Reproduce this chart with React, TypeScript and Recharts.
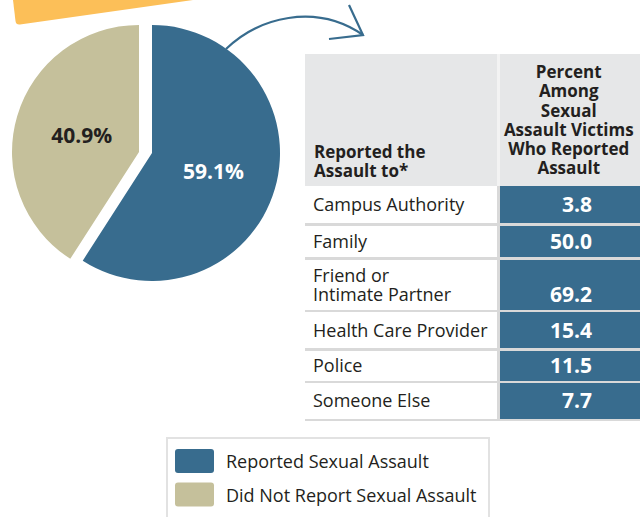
import React from 'react';
import { PieChart, Pie, Cell, Legend } from 'recharts';

// ---- data ----
const pieNames = ['Reported Sexual Assault', 'Did Not Report Sexual Assault'];
const pieValues = [59.1, 40.9];
const pieColors = ['#386c8e', '#c5c09b'];
const pieLabelColors = ['#ffffff', '#231f20'];

const headerCol1 = ['Reported the', 'Assault to*'];
const headerCol2 = ['Percent', 'Among', 'Sexual', 'Assault Victims', 'Who Reported', 'Assault'];
const reportedTo = ['Campus Authority', 'Family', 'Friend or\nIntimate Partner', 'Health Care Provider', 'Police', 'Someone Else'];
const reportedPercents = [3.8, 50.0, 69.2, 15.4, 11.5, 7.7];

const pieData = pieNames.map((name, i) => ({ name, value: pieValues[i] }));

// ---- layout ----
const FONT = '"Open Sans", "DejaVu Sans", sans-serif';
const TEXT = '#231f20';
const BLUE = pieColors[0];
const SEP = '#d9d9d9';
const TABLE_LEFT = 305;
const DIVIDER_X = 497;
const VALUE_LEFT = 499.5;
const TABLE_RIGHT = 640;
const HEADER_TOP = 54;
const HEADER_BOTTOM = 186;
const rowLines = [186, 223, 257, 309.5, 348, 380.5, 418.5];
const LINE_H = 2.5;
const RAD = Math.PI / 180;
const labelRadiusFactor = [0.5, 0.47];

const makeLabel = (visibleIndex: number) => (props: any) => {
  const { cx, cy, midAngle, outerRadius, index, value } = props;
  if (index !== visibleIndex) return null;
  const r = outerRadius * labelRadiusFactor[index];
  const x = cx + r * Math.cos(-midAngle * RAD);
  const y = cy + r * Math.sin(-midAngle * RAD);
  return (
    <text x={x} y={y} fill={pieLabelColors[index]} textAnchor="middle" dominantBaseline="central"
      style={{ fontFamily: FONT, fontWeight: 700, fontSize: 21 }}>
      {`${value.toFixed(1)}%`}
    </text>
  );
};

const renderLegend = () => (
  <div style={{ width: 324, height: 100, border: '2px solid #e2e2e2', boxSizing: 'border-box', fontFamily: FONT }}>
    {pieNames.map((n, i) => (
      <div key={n} style={{ position: 'absolute', left: 9, top: 12, height: 24, display: 'flex', alignItems: 'center', transform: `translateY(${i * 33.5}px)` }}>
        <div style={{ width: 39, height: 24, borderRadius: 3, background: pieColors[i] }} />
        <span style={{ marginLeft: 12, fontSize: 18, color: TEXT, whiteSpace: 'nowrap' }}>{n}</span>
      </div>
    ))}
  </div>
);

export default function App() {
  const rows = reportedTo.map((label, i) => {
    const top = rowLines[i] + (i === 0 ? 0 : LINE_H);
    const bottom = rowLines[i + 1];
    const nLines = label.split('\n').length;
    return { label, top, height: bottom - top, value: '\n'.repeat(nLines - 1) + reportedPercents[i].toFixed(1) };
  });

  return (
    <div style={{ position: 'absolute', left: 0, top: 0, width: 640, height: 517, overflow: 'hidden', background: '#fff', fontFamily: FONT }}>
      {/* yellow banner */}
      <svg width={640} height={517} style={{ position: 'absolute', left: 0, top: 0 }}>
        <path d="M13,0 L193,0 L20,24.5 Q16,25 15.5,21 Z" fill="#fcbf58" />
      </svg>

      <div style={{ position: 'absolute', left: 0, top: 0 }}>
        <PieChart width={640} height={517} margin={{ top: 0, right: 0, bottom: 0, left: 0 }}>
          <Pie data={pieData} dataKey="value" nameKey="name" cx={152} cy={153} outerRadius={128}
            startAngle={90} endAngle={-270} stroke="none" labelLine={false} label={makeLabel(0)}
            isAnimationActive={false} legendType="none">
            <Cell fill={pieColors[0]} />
            <Cell fill="none" />
          </Pie>
          <Pie data={pieData} dataKey="value" nameKey="name" cx={139} cy={152} outerRadius={127}
            startAngle={90} endAngle={-270} stroke="none" labelLine={false} label={makeLabel(1)}
            isAnimationActive={false} legendType="none">
            <Cell fill="none" />
            <Cell fill={pieColors[1]} />
          </Pie>
          <Legend content={renderLegend}
            wrapperStyle={{ position: 'absolute', left: 166, top: 437, bottom: 'auto', width: 324, height: 100 }} />
        </PieChart>
      </div>

      {/* arrow */}
      <svg width={640} height={517} style={{ position: 'absolute', left: 0, top: 0, pointerEvents: 'none' }}>
        <path d="M226,49 C258,18 315,2 363,35" fill="none" stroke={BLUE} strokeWidth={2.2} />
        <polyline points="349,5 363,35 329,39" fill="none" stroke={BLUE} strokeWidth={2.2} />
      </svg>

      {/* table header */}
      <div style={{ position: 'absolute', left: TABLE_LEFT, top: HEADER_TOP, width: TABLE_RIGHT - TABLE_LEFT, height: HEADER_BOTTOM - HEADER_TOP, background: '#e6e7e8' }} />
      <div style={{ position: 'absolute', left: DIVIDER_X, top: HEADER_TOP, width: VALUE_LEFT - DIVIDER_X, height: HEADER_BOTTOM - HEADER_TOP, background: '#f3f3f3' }} />
      <div style={{ position: 'absolute', left: TABLE_LEFT + 9, top: 0, height: 180, width: 185, display: 'flex', flexDirection: 'column', justifyContent: 'flex-end', fontWeight: 700, fontSize: 17, lineHeight: '19px', color: TEXT }}>
        {headerCol1.map((t) => <div key={t}>{t}</div>)}
      </div>
      <div style={{ position: 'absolute', left: VALUE_LEFT, top: 62, width: TABLE_RIGHT - VALUE_LEFT - 2, textAlign: 'center', fontWeight: 700, fontSize: 17, lineHeight: '19.3px', color: TEXT }}>
        {headerCol2.map((t) => <div key={t}>{t}</div>)}
      </div>

      {/* table body */}
      {rowLines.slice(1).map((y, i) => (
        <div key={'sep' + i} style={{ position: 'absolute', left: TABLE_LEFT, top: y, width: TABLE_RIGHT - TABLE_LEFT, height: LINE_H, background: SEP }} />
      ))}
      <div style={{ position: 'absolute', left: DIVIDER_X, top: HEADER_BOTTOM, width: VALUE_LEFT - DIVIDER_X, height: rowLines[rowLines.length - 1] + LINE_H - HEADER_BOTTOM, background: SEP }} />
      {rows.map((r, i) => (
        <React.Fragment key={'row' + i}>
          <div style={{ position: 'absolute', left: TABLE_LEFT + 8, top: r.top, height: r.height, width: DIVIDER_X - TABLE_LEFT - 8, display: 'flex', alignItems: 'center', whiteSpace: 'pre-line', fontSize: 18, lineHeight: '19px', color: TEXT }}>
            {r.label}
          </div>
          <div style={{ position: 'absolute', left: VALUE_LEFT, top: r.top, height: r.height, width: TABLE_RIGHT - VALUE_LEFT, background: BLUE, display: 'flex', alignItems: 'center', justifyContent: 'flex-end', boxSizing: 'border-box', paddingRight: 48, whiteSpace: 'pre', textAlign: 'right', fontSize: 21, fontWeight: 700, lineHeight: '19px', color: '#fff' }}>
            {r.value}
          </div>
        </React.Fragment>
      ))}
    </div>
  );
}
